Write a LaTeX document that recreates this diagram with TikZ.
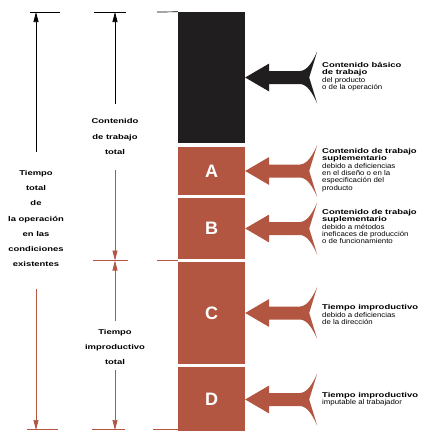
\documentclass[tikz,border=0pt]{standalone}
\usepackage{fontspec}
\setmainfont{Liberation Sans}
\newfontfamily\ancha[FakeStretch=1.12]{Liberation Sans}
\newfontfamily\negra[FakeStretch=1.35]{Liberation Sans}
\usetikzlibrary{arrows.meta}

\definecolor{ladrillo}{RGB}{178,86,66}
\definecolor{tinta}{RGB}{32,30,30}

\newcommand{\titulo}[1]{{\negra\bfseries #1}}

\begin{document}
\begin{tikzpicture}[x=1pt,y=-1pt,
  caja/.style={minimum width=67pt, inner sep=0pt},
  letra/.style={text=white, font=\fontsize{18}{18}\selectfont\bfseries},
  cota/.style={line width=0.7pt},
  flecha/.style={cota, -{Triangle[length=10pt,width=5pt]}},
  rotulo/.style={align=center, font=\negra\fontsize{7}{15.2}\selectfont\bfseries},
  nota/.style={anchor=west, align=left, inner sep=0pt, font=\ancha\fontsize{7}{7.4}\selectfont},
  pics/flechota/.style={code={
    \fill[#1] (0,0) -- (24,-14) -- (24,-6.5) -- (55,-6.5)
      .. controls (62,-7) and (67,-15) .. (72,-26)
      -- (64,0) -- (72,26)
      .. controls (67,15) and (62,7) .. (55,6.5)
      -- (24,6.5) -- (24,14) -- cycle;
  }}
]
\useasboundingbox (0,0) rectangle (422,431);

% bloques de tiempo
\node[caja, fill=tinta, minimum height=131pt] (basico) at (211.5,77.5) {};
\node[caja, fill=ladrillo, minimum height=48pt, letra] (A) at (211.5,171) {A};
\node[caja, fill=ladrillo, minimum height=61pt, letra] (B) at (211.5,228.5) {B};
\node[caja, fill=ladrillo, minimum height=102pt, letra] (C) at (211.5,313) {C};
\node[caja, fill=ladrillo, minimum height=65pt, letra] (D) at (211.5,399.5) {D};

% flechas grandes hacia cada bloque
\pic at (basico.east) {flechota=tinta};
\pic at (A.east) {flechota=ladrillo};
\pic at (B.east) {flechota=ladrillo};
\pic at (C.east) {flechota=ladrillo};
\pic at (D.east) {flechota=ladrillo};

\node[nota] (nbasico) at (322,76.5) {\titulo{Contenido básico}\\\titulo{de trabajo}\\del producto\\o de la operación};
\node[nota] (nA) at (322,170) {\titulo{Contenido de trabajo}\\\titulo{suplementario}\\debido a deficiencias\\en el diseño o en la\\especificación del\\producto};
\node[nota] (nB) at (322,226.5) {\titulo{Contenido de trabajo}\\\titulo{suplementario}\\debido a métodos\\ineficaces de producción\\o de funcionamiento};
\node[nota] (nC) at (322,314.5) {\titulo{Tiempo improductivo}\\debido a deficiencias\\de la dirección};
\node[nota] (nD) at (322,399) {\titulo{Tiempo improductivo}\\imputable al trabajador};

% cotas de la izquierda
\node[rotulo] (total) at (36,218.5) {Tiempo\\total\\de\\la operación\\en las\\condiciones\\existentes};
\node[rotulo] (contenido) at (115,136.5) {Contenido\\de trabajo\\total};
\node[rotulo] (improductivo) at (115,347) {Tiempo\\improductivo\\total};

\coordinate (ti1) at (36,12);
\coordinate (ti2) at (36,152);
\coordinate (ti3) at (36,289);
\coordinate (ti4) at (36,430);
\coordinate (co1) at (115,12);
\coordinate (co2) at (115,104);
\coordinate (co3) at (115,170);
\coordinate (co4) at (115,260.5);
\coordinate (im1) at (115,321);
\coordinate (im2) at (115,370);
\coordinate (im3) at (115,430);

\draw[cota] (30,12) -- (60,12);
\draw[cota] (94,12) -- (126,12);
\draw[cota] (157,12) -- (basico.north west);
\draw[cota, ladrillo] (93,260.5) -- (128,260.5);
\draw[cota, ladrillo] (157,260.5) -- (178,260.5);
\draw[cota, ladrillo] (27,429.5) -- (58,429.5);
\draw[cota, ladrillo] (92,429.5) -- (125,429.5);
\draw[cota, ladrillo] (153,429.5) -- (178,429.5);

\draw[flecha] (ti2) -- (ti1);
\draw[flecha, ladrillo] (ti3) -- (ti4);
\draw[flecha] (co2) -- (co1);
\draw[flecha, ladrillo] (co3) -- (co4);
\draw[flecha, ladrillo] (im1) -- (co4);
\draw[flecha, ladrillo] (im2) -- (im3);
\end{tikzpicture}
\end{document}
